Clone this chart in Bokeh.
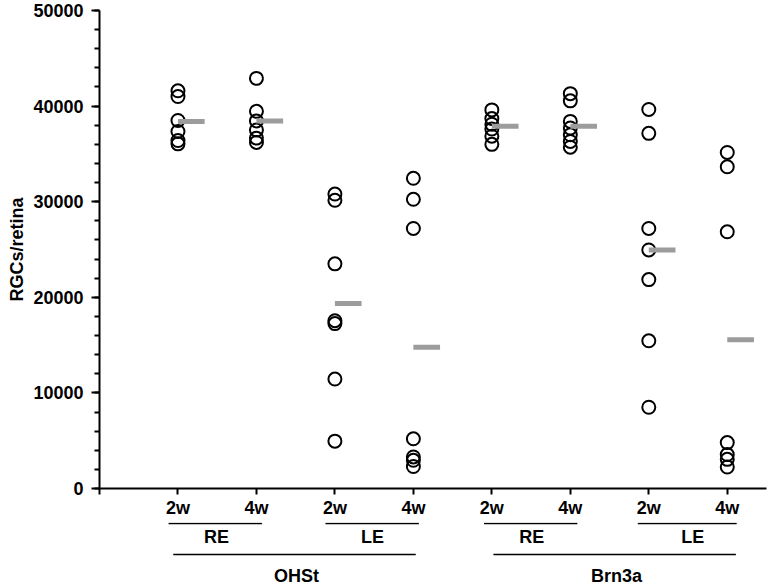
from bokeh.plotting import figure
from bokeh.layouts import column
from bokeh.models import Range1d, FixedTicker, SingleIntervalTicker, Title
from bokeh.core.properties import value
from bokeh.embed import file_html
from bokeh.resources import INLINE

# ---- data ----
stains = ["OHSt", "Brn3a"]
eyes = ["RE", "LE"]
weeks = ["2w", "4w"]

ohst_re_2w = [41600, 41000, 38500, 37350, 36400, 36050]
ohst_re_4w = [42900, 39450, 38450, 37500, 36650, 36200]
ohst_le_2w = [30800, 30150, 23500, 17550, 17250, 11450, 4950]
ohst_le_4w = [32450, 30250, 27200, 5200, 3300, 2950, 2300]
brn3a_re_2w = [39600, 38700, 38100, 37600, 36850, 36000]
brn3a_re_4w = [41300, 40550, 38400, 37700, 37000, 36300, 35700]
brn3a_le_2w = [39650, 37150, 27200, 24950, 21850, 15450, 8500]
brn3a_le_4w = [35150, 33650, 26850, 4800, 3550, 3050, 2250]

groups = [ohst_re_2w, ohst_re_4w, ohst_le_2w, ohst_le_4w,
          brn3a_re_2w, brn3a_re_4w, brn3a_le_2w, brn3a_le_4w]
means = [38400, 38450, 19350, 14780, 37880, 37880, 24950, 15550]
y_label = "RGCs/retina"

FONT = "Liberation Sans"
FS = "18px"
W = 768
LEFT = 99
RIGHT = 2

p = figure(width=W, height=522, output_backend="svg", toolbar_location=None,
           x_range=Range1d(0, 8.5), y_range=Range1d(0, 50000),
           min_border_left=LEFT, min_border_right=RIGHT, min_border_top=10,
           min_border_bottom=34)
p.background_fill_color = "white"
p.border_fill_color = "white"
p.outline_line_color = None
p.xgrid.grid_line_color = None
p.ygrid.grid_line_color = None

# points
xs, ys = [], []
for i, g in enumerate(groups):
    xs += [i + 1] * len(g)
    ys += g
p.scatter(xs, ys, marker="circle", size=13, fill_color=None,
          line_color="black", line_width=2)

# mean bars
pos = [i + 1 for i in range(len(means))]
p.segment(x0=pos, y0=means, x1=[x + 0.34 for x in pos], y1=means,
          line_width=5, line_color="#9c9c9c", line_cap="butt")

# y axis
ya = p.yaxis[0]
ya.ticker = SingleIntervalTicker(interval=10000, num_minor_ticks=5)
ya.major_label_text_font = FONT
ya.major_label_text_font_style = "bold"
ya.major_label_text_font_size = FS
ya.major_label_text_color = "black"
ya.major_label_standoff = 8
ya.major_tick_out = 8
ya.major_tick_in = 0
ya.minor_tick_out = 5
ya.minor_tick_in = 0
ya.axis_line_width = 2
ya.major_tick_line_width = 2
ya.minor_tick_line_width = 2

# y label placed a bit above the frame centre, as in the original
yt = Title(text=y_label, align="center", offset=27, standoff=7,
           text_font=FONT, text_font_style="bold", text_font_size=FS,
           text_color="black")
p.add_layout(yt, "left")

# x axis
xa = p.xaxis[0]
xa.ticker = FixedTicker(ticks=list(range(0, 9)), minor_ticks=[])
labels = {0: ""}
for i in range(8):
    labels[i + 1] = weeks[i % 2]
xa.major_label_overrides = labels
xa.major_label_text_font = FONT
xa.major_label_text_font_style = "bold"
xa.major_label_text_font_size = FS
xa.major_label_text_color = "black"
xa.major_label_standoff = 3
xa.major_tick_out = 6
xa.major_tick_in = 0
xa.axis_line_width = 2
xa.major_tick_line_width = 2

# ---- group labels strip below the axis (y in pixels, downward) ----
H2 = 62
p2 = figure(width=W, height=H2, output_backend="svg", toolbar_location=None,
            x_range=p.x_range, y_range=Range1d(H2, 0),
            x_axis_location=None, y_axis_location=None,
            min_border_left=LEFT, min_border_right=RIGHT, min_border_top=0,
            min_border_bottom=0)
p2.background_fill_color = "white"
p2.border_fill_color = "white"
p2.outline_line_color = None
p2.xgrid.grid_line_color = None
p2.ygrid.grid_line_color = None

# bracket extents (layout, in tick units)
sub_x0 = [0.88, 2.88, 4.90, 6.86]
sub_x1 = [2.07, 4.07, 6.09, 8.12]
sub_c = [1.49, 3.48, 5.51, 7.56]
sub_t = [eyes[k % 2] for k in range(4)]
main_x0 = [0.94, 5.02]
main_x1 = [4.03, 8.11]
main_c = [2.51, 6.59]

p2.segment(x0=sub_x0, x1=sub_x1, y0=[1] * 4, y1=[1] * 4,
           line_color="black", line_width=1.5)
p2.text(x=sub_c, y=[14] * 4, text=sub_t, text_align="center",
        text_baseline="middle", text_font=value(FONT), text_font_style="bold",
        text_font_size=FS, text_color="black")
p2.segment(x0=main_x0, x1=main_x1, y0=[32] * 2, y1=[32] * 2,
           line_color="black", line_width=1.5)
p2.text(x=main_c, y=[53] * 2, text=stains, text_align="center",
        text_baseline="middle", text_font=value(FONT), text_font_style="bold",
        text_font_size=FS, text_color="black")

layout = column(p, p2, spacing=0)
open("out.html", "w").write(file_html(layout, INLINE))
